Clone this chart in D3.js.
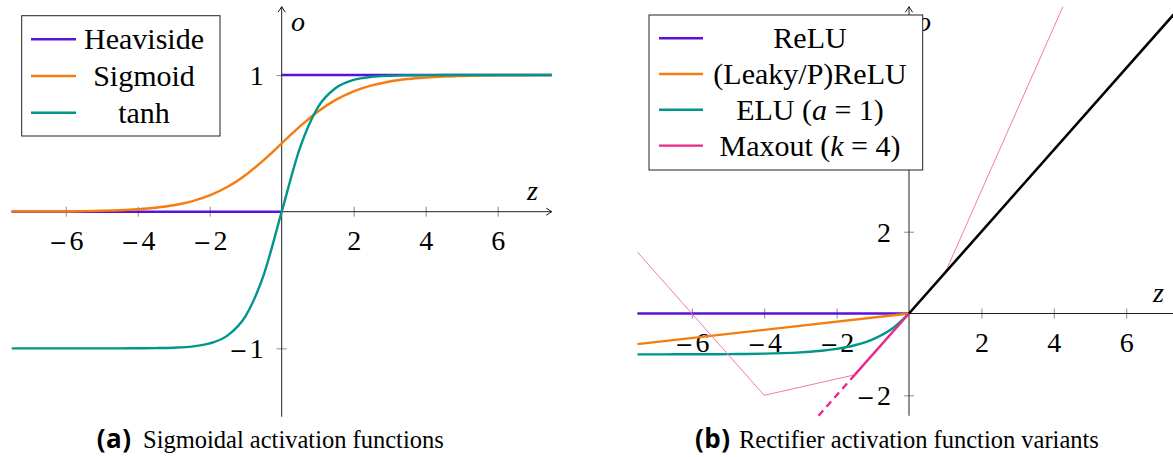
<!DOCTYPE html>
<html>
<head>
<meta charset="utf-8">
<script src="https://cdn.jsdelivr.net/npm/d3@7"></script>
<style>
  body { margin: 0; background: #fff; }
  svg { display: block; }
</style>
</head>
<body>
<svg id="fig" width="1173" height="457"></svg>
<script>
// ---- sampled function values ----
const zGrid = [-7.5, -7, -6.5, -6, -5.5, -5, -4.5, -4, -3.5, -3, -2.5, -2, -1.5, -1, -0.5,
               0, 0.5, 1, 1.5, 2, 2.5, 3, 3.5, 4, 4.5, 5, 5.5, 6, 6.5, 7, 7.5];
const sigmoidVals = [0.001, 0.001, 0.002, 0.002, 0.004, 0.007, 0.011, 0.018, 0.029, 0.047, 0.076, 0.119, 0.182, 0.269, 0.378,
                     0.5, 0.622, 0.731, 0.818, 0.881, 0.924, 0.953, 0.971, 0.982, 0.989, 0.993, 0.996, 0.998, 0.998, 0.999, 0.999];
const tanhVals = [-1, -1, -1, -1, -1, -1, -1, -0.999, -0.998, -0.995, -0.987, -0.964, -0.905, -0.762, -0.462,
                  0, 0.462, 0.762, 0.905, 0.964, 0.987, 0.995, 0.998, 0.999, 1, 1, 1, 1, 1, 1, 1];
const heavisideLowZ = [-7.5, 0], heavisideLowVals = [0, 0];
const heavisideHighZ = [0, 7.5], heavisideHighVals = [1, 1];

const negZ = [-7.5, 0];
const reluNegVals = [0, 0];
const leakyNegVals = [-0.75, 0];
const eluZ = [-7.5, -7, -6.5, -6, -5.5, -5, -4.5, -4, -3.5, -3, -2.5, -2, -1.5, -1, -0.5, 0];
const eluVals = [-0.999, -0.999, -0.998, -0.998, -0.996, -0.993, -0.989, -0.982, -0.970, -0.950, -0.918, -0.865, -0.777, -0.632, -0.393, 0];
const maxoutZ = [-7.5, -4, -1.5, 1, 4.25];
const maxoutVals = [1.5, -2, -1.5, 1, 7.5];
const maxoutPieceZ = [-1.5, 0], maxoutPieceVals = [-1.5, 0];
const maxoutDashZ = [-2.5, -1.5], maxoutDashVals = [-2.5, -1.5];
const identityZ = [0, 7.5], identityVals = [0, 7.5];

const ticksA_x = [-6, -4, -2, 2, 4, 6];
const ticksA_y = [-1, 1];
const ticksB_x = [-6, -4, -2, 2, 4, 6];
const ticksB_y = [-2, 2];

const legendA = ["Heaviside", "Sigmoid", "tanh"];
const legendB = ["ReLU", "(Leaky/P)ReLU", "ELU (a = 1)", "Maxout (k = 4)"];

const C = {
  purple: "#5a12d8",
  orange: "#f57c0e",
  teal: "#00968a",
  pink: "#e8288a",
  pinkThin: "#f27ab2",
  black: "#000"
};

const svg = d3.select("#fig");
const SERIF = "'Liberation Serif', serif";
const zip = (xs, ys) => xs.map((x, i) => [x, ys[i]]);

// tick label with a wide math minus
function tickLabel(sel) {
  sel.each(function (v) {
    const t = d3.select(this).text(null);
    if (v < 0) {
      t.append("tspan").attr("font-family", "'DejaVu Serif', serif").attr("font-size", 22).text("\u2212");
      t.append("tspan").attr("dx", 2).text(Math.abs(v));
    } else {
      t.append("tspan").text(v);
    }
  });
}

function arrowHead(g, x, y, angle) {
  g.append("path")
    .attr("d", "M-5.5,-3.6 Q-2,-1.2 0,0 Q-2,1.2 -5.5,3.6")
    .attr("fill", "none").attr("stroke", "#111").attr("stroke-width", 1)
    .attr("transform", `translate(${x},${y}) rotate(${angle})`);
}

function panel(opt) {
  const g = svg.append("g");
  const x = d3.scaleLinear().domain(opt.xDomain).range(opt.xRange);
  const y = d3.scaleLinear().domain(opt.yDomain).range(opt.yRange);
  const x0 = x(0), y0 = y(0);

  // tick marks straddling the axes
  const xa = d3.axisBottom(x).tickValues(opt.xTicks).tickSize(0).tickPadding(0);
  const gx = g.append("g").attr("transform", `translate(0,${y0})`).call(xa);
  gx.select(".domain").remove();
  gx.selectAll(".tick line").attr("y1", -5).attr("y2", 5).attr("stroke", "#8a8a8a");
  gx.selectAll(".tick text").attr("y", 38).attr("dy", null)
    .attr("font-family", SERIF).attr("font-size", 28).attr("fill", "#000").call(tickLabel);

  const ya = d3.axisLeft(y).tickValues(opt.yTicks).tickSize(0).tickPadding(0);
  const gy = g.append("g").attr("transform", `translate(${x0},0)`).call(ya);
  gy.select(".domain").remove();
  gy.selectAll(".tick line").attr("x1", -5).attr("x2", 5).attr("stroke", "#8a8a8a");
  gy.selectAll(".tick text").attr("x", -18).attr("dy", "0.34em")
    .attr("font-family", SERIF).attr("font-size", 28).attr("fill", "#000").call(tickLabel);

  // axis lines with arrow tips
  g.append("line").attr("x1", x.range()[0]).attr("x2", x.range()[1])
    .attr("y1", y0).attr("y2", y0).attr("stroke", "#222").attr("stroke-width", 1);
  g.append("line").attr("x1", x0).attr("x2", x0)
    .attr("y1", y.range()[0]).attr("y2", y.range()[1]).attr("stroke", "#222").attr("stroke-width", 1);
  arrowHead(g, x.range()[1], y0, 0);
  arrowHead(g, x0, y.range()[1], -90);

  // axis names
  g.append("text").attr("x", opt.zLabel[0]).attr("y", opt.zLabel[1])
    .attr("font-family", SERIF).attr("font-style", "italic").attr("font-size", 28).text("z");
  g.append("text").attr("x", opt.oLabel[0]).attr("y", opt.oLabel[1])
    .attr("font-family", SERIF).attr("font-style", "italic").attr("font-size", 28).text("o");

  opt.series.forEach(s => {
    const line = d3.line().x(d => x(d[0])).y(d => y(d[1]))
      .curve(s.smooth ? d3.curveMonotoneX : d3.curveLinear);
    g.append("path").attr("d", line(s.pts))
      .attr("fill", "none").attr("stroke", s.color)
      .attr("stroke-width", s.width || 2.4)
      .attr("stroke-dasharray", s.dash || null)
      .attr("stroke-linejoin", "round");
  });
  return g;
}

// (a) sigmoidal functions
panel({
  xDomain: [-7.5, 7.5], xRange: [11.7, 551.7],
  yDomain: [-1.5, 1.5], yRange: [416.7, 6.7],
  xTicks: ticksA_x, yTicks: ticksA_y,
  zLabel: [527, 200], oLabel: [291, 31],
  series: [
    { pts: zip(heavisideLowZ, heavisideLowVals), color: C.purple },
    { pts: zip(heavisideHighZ, heavisideHighVals), color: C.purple },
    { pts: zip(zGrid, sigmoidVals), color: C.orange, smooth: true },
    { pts: zip(zGrid, tanhVals), color: C.teal, smooth: true }
  ]
});

// (b) rectifier variants
panel({
  xDomain: [-7.5, 7.5], xRange: [637.5, 1180.5],
  yDomain: [-2.5, 7.5], yRange: [415.75, 6.75],
  xTicks: ticksB_x, yTicks: ticksB_y,
  zLabel: [1153, 302], oLabel: [917, 31],
  series: [
    { pts: zip(negZ, reluNegVals), color: C.purple },
    { pts: zip(negZ, leakyNegVals), color: C.orange },
    { pts: zip(eluZ, eluVals), color: C.teal, smooth: true },
    { pts: zip(maxoutZ, maxoutVals), color: C.pinkThin, width: 1 },
    { pts: zip(maxoutPieceZ, maxoutPieceVals), color: C.pink },
    { pts: zip(maxoutDashZ, maxoutDashVals), color: C.pink, dash: "7,5" },
    { pts: zip(identityZ, identityVals), color: C.black, width: 2.6 }
  ]
});

// legends
function legend(box, rows, lineX, textX, entries, colors) {
  const g = svg.append("g");
  g.append("rect").attr("x", box[0]).attr("y", box[1]).attr("width", box[2]).attr("height", box[3])
    .attr("fill", "#fff").attr("stroke", "#222").attr("stroke-width", 1);
  entries.forEach((label, i) => {
    g.append("line").attr("x1", lineX[0]).attr("x2", lineX[1])
      .attr("y1", rows[i]).attr("y2", rows[i]).attr("stroke", colors[i]).attr("stroke-width", 2.4);
    const t = g.append("text").attr("x", textX).attr("y", rows[i] + 10)
      .attr("text-anchor", "middle").attr("font-family", SERIF).attr("font-size", 30);
    const m = label.match(/^(.*\()([ak])( = .*)$/);
    if (m) {
      t.append("tspan").text(m[1]);
      t.append("tspan").attr("font-style", "italic").text(m[2]);
      t.append("tspan").text(m[3]);
    } else {
      t.text(label);
    }
  });
}
legend([21.7, 15.7, 198.3, 120.3], [39.3, 76, 112.7], [31, 76], 144, legendA,
       [C.purple, C.orange, C.teal]);
legend([649, 15, 273.7, 155], [38.3, 74, 109.8, 145.6], [659, 703], 810, legendB,
       [C.purple, C.orange, C.teal, C.pink]);

// captions
function caption(tag, text, x, textX) {
  svg.append("text").attr("x", x).attr("y", 448)
    .attr("font-family", "'Open Sans', sans-serif").attr("font-weight", 700).attr("font-size", 26)
    .attr("letter-spacing", 0.5).text(tag);
  svg.append("text").attr("x", textX).attr("y", 448)
    .attr("font-family", SERIF).attr("font-size", 24.5).text(text);
}
caption("(a)", "Sigmoidal activation functions", 96.7, 143);
caption("(b)", "Rectifier activation function variants", 695, 739);
</script>
</body>
</html>
